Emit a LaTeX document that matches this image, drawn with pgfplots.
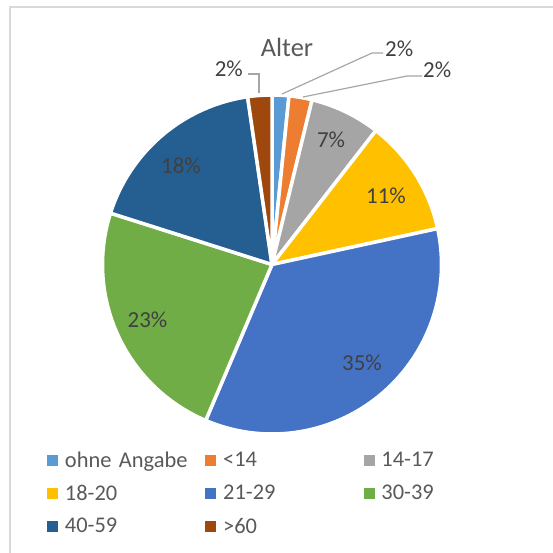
\documentclass[border=0pt]{standalone}
\usepackage{fontspec}
\setmainfont{Carlito}
\usepackage{pgfplots}
\pgfplotsset{compat=1.18}
\definecolor{cA}{HTML}{5B9BD5}
\definecolor{cB}{HTML}{ED7D31}
\definecolor{cC}{HTML}{A5A5A5}
\definecolor{cD}{HTML}{FFC000}
\definecolor{cE}{HTML}{4472C4}
\definecolor{cF}{HTML}{70AD47}
\definecolor{cG}{HTML}{255E91}
\definecolor{cH}{HTML}{9E480E}
\definecolor{tgray}{HTML}{595959}
\definecolor{lgray}{HTML}{404040}
\definecolor{leader}{HTML}{A6A6A6}
\definecolor{frame}{HTML}{D9D9D9}
\tikzset{lbl/.style={font=\fontsize{23}{27}\selectfont, text=lgray}}
\newcommand\startp{0}
\newcommand{\slice}[3]{%
  \pgfmathsetmacro{\endp}{\startp+#1}%
  \pgfmathsetmacro{\angA}{90-3.6*\startp}%
  \pgfmathsetmacro{\angB}{90-3.6*\endp}%
  \edef\doplot{\noexpand\addplot[fill=#2, draw=white, line width=3.5bp, line join=round, domain=\angB:\angA, samples=90, variable=\noexpand\t] ({272+169.5*cos(\noexpand\t)},{288.5+169.5*sin(\noexpand\t)}) -- (axis cs:272,288.5) -- cycle;}%
  \doplot
  \addlegendentry{#3}%
  \global\let\startp\endp
}
\begin{document}
\begin{tikzpicture}
\begin{axis}[
  name=ax, at={(0,0)}, anchor=south west,
  width=553bp, height=553bp, scale only axis,
  xmin=0, xmax=553, ymin=0, ymax=553,
  hide axis, clip=false,
  legend columns=3, legend cell align=left,
  legend image code/.code={\fill[#1, draw=none] (0bp,-5.5bp) rectangle (11bp,5.5bp); \path (16bp,0bp);},
  legend style={draw=none, fill=none, at={(0.08499,0.19801)}, anchor=north west,
    inner sep=0pt, row sep=0pt, column sep=0pt,
    font=\fontsize{22.5}{27}\selectfont, text=tgray,
    nodes={inner sep=0pt, minimum height=33bp, text width=140.5bp, align=left}},
]
\slice{1.6}{cA}{ohne Angabe}
\slice{2.2}{cB}{<14}
\slice{6.7}{cC}{14-17}
\slice{11.1}{cD}{18-20}
\slice{34.8}{cE}{21-29}
\slice{23.5}{cF}{30-39}
\slice{17.8}{cG}{40-59}
\slice{2.3}{cH}{>60}
% labels
\node[lbl] at (axis cs:331,413) {7\%};
\node[lbl] at (axis cs:386,357) {11\%};
\node[lbl] at (axis cs:362,190) {35\%};
\node[lbl] at (axis cs:147.5,233) {23\%};
\node[lbl] at (axis cs:181,387) {18\%};
\node[lbl, anchor=west, inner sep=0pt] at (axis cs:385,504) {2\%};
\node[lbl, anchor=west, inner sep=0pt] at (axis cs:423,483) {2\%};
\node[lbl, anchor=east, inner sep=0pt] at (axis cs:243,484) {2\%};
\draw[leader, line width=1.2bp] (axis cs:282,459) -- (axis cs:372,500) -- (axis cs:383,500);
\draw[leader, line width=1.2bp] (axis cs:303,456) -- (axis cs:407,477) -- (axis cs:422,477);
\draw[leader, line width=1.2bp] (axis cs:259,460) -- (axis cs:259,479) -- (axis cs:248,479);
% title
\node[font=\fontsize{26.5}{30}\selectfont, text=tgray] at (axis cs:287,506) {Alter};
% frame
\draw[frame, line width=1.6bp] (axis cs:600,546) -- (axis cs:10,546) -- (axis cs:10,-50);
\end{axis}
\pgfresetboundingbox
\path[use as bounding box] (ax.south west) rectangle (ax.north east);
\end{tikzpicture}
\end{document}
